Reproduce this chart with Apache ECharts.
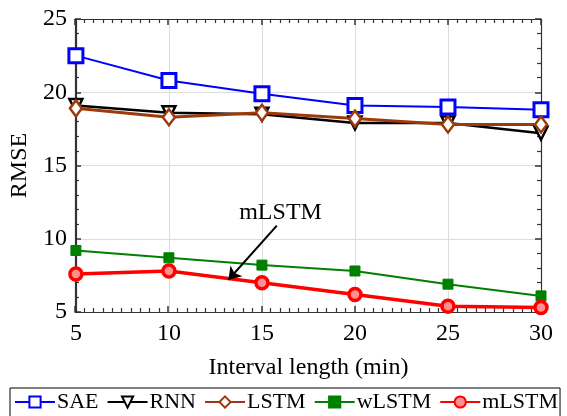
<!DOCTYPE html>
<html>
<head>
<meta charset="utf-8">
<script src="https://cdn.jsdelivr.net/npm/echarts@6/dist/echarts.min.js"></script>
<style>
  html, body { margin: 0; padding: 0; background: #fff; }
  #chart { width: 567px; height: 416px; }
</style>
</head>
<body>
<div id="chart"></div>
<script>
// 时间间隔 (min)
const intervals = [5, 10, 15, 20, 25, 30]
const saeData = [22.5, 20.8, 19.9, 19.1, 19.0, 18.8]
const rnnData = [19.1, 18.6, 18.5, 17.9, 17.9, 17.2]
const lstmData = [18.9, 18.3, 18.6, 18.2, 17.8, 17.8]
const wlstmData = [9.2, 8.7, 8.2, 7.8, 6.9, 6.1]
const mlstmData = [7.6, 7.8, 7.0, 6.2, 5.4, 5.3]
// 箭头标注
const arrowFrom = [15.8, 10.9]
const arrowTo = [13.2, 7.2]
const noteAt = [16.0, 11.8]

const font = 'Liberation Serif'
const chart = echarts.init(document.getElementById('chart'))

const pairs = (vals) => intervals.map((x, i) => [x, vals[i]])

const frameColor = '#333'
const gridRect = { left: 75, right: 26, top: 19, bottom: 104 }

// 只画刻度的坐标轴 (第二个 grid, 叠在同一位置)
const tickAxis = (kind, position, split) => ({
  type: 'value',
  gridIndex: 1,
  position: position,
  min: 5,
  max: kind === 'x' ? 30 : 25,
  interval: 5,
  axisLine: { show: true, onZero: false, lineStyle: { color: frameColor, width: 1.2 } },
  axisTick: { show: true, inside: true, length: 6, lineStyle: { color: frameColor, width: 1.5 } },
  minorTick: { show: true, splitNumber: split, length: 4, lineStyle: { color: frameColor, width: 1.2 } },
  axisLabel: { show: false },
  splitLine: { show: false }
})

const option = {
  animation: false,
  grid: [
    Object.assign({}, gridRect),
    Object.assign({}, gridRect)
  ],
  legend: {
    left: 10,
    top: 388,
    orient: 'horizontal',
    itemWidth: 40,
    itemHeight: 14,
    itemGap: 8,
    padding: [3, 2, 6, 4],
    borderColor: '#000',
    borderWidth: 1,
    textStyle: { fontFamily: font, fontSize: 22, color: '#000', padding: [0, 0, 0, -3] },
    data: ['SAE', 'RNN', 'LSTM', 'wLSTM', 'mLSTM']
  },
  xAxis: [
    {
      type: 'value',
      gridIndex: 0,
      min: 5,
      max: 30,
      interval: 5,
      name: 'Interval length (min)',
      nameLocation: 'middle',
      nameGap: 44,
      nameTextStyle: { fontFamily: font, fontSize: 24, color: '#000' },
      axisLine: { show: true, onZero: false, lineStyle: { color: frameColor, width: 1.2 } },
      axisTick: { show: false },
      axisLabel: { fontFamily: font, fontSize: 24, color: '#000', margin: 10 },
      splitLine: { show: true, lineStyle: { color: '#ddd' } }
    },
    tickAxis('x', 'bottom', 10),
    tickAxis('x', 'top', 10)
  ],
  yAxis: [
    {
      type: 'value',
      gridIndex: 0,
      min: 5,
      max: 25,
      interval: 5,
      name: 'RMSE',
      nameLocation: 'middle',
      nameGap: 33,
      nameTextStyle: { fontFamily: font, fontSize: 24, color: '#000' },
      axisLine: { show: true, onZero: false, lineStyle: { color: frameColor, width: 1.2 } },
      axisTick: { show: false },
      axisLabel: { fontFamily: font, fontSize: 24, color: '#000', margin: 9 },
      splitLine: { show: true, lineStyle: { color: '#ddd' } }
    },
    tickAxis('y', 'left', 5),
    tickAxis('y', 'right', 5)
  ],
  series: [
    {
      name: 'SAE',
      type: 'line',
      data: pairs(saeData),
      symbol: 'rect',
      symbolSize: 14,
      lineStyle: { width: 2, color: '#0000ff' },
      itemStyle: { color: '#fff', borderColor: '#0000ff', borderWidth: 3 }
    },
    {
      name: 'RNN',
      type: 'line',
      data: pairs(rnnData),
      symbol: 'triangle',
      symbolRotate: 180,
      symbolSize: 13,
      lineStyle: { width: 2.5, color: '#000' },
      itemStyle: { color: '#fff', borderColor: '#000', borderWidth: 2.5 }
    },
    {
      name: 'LSTM',
      type: 'line',
      data: pairs(lstmData),
      symbol: 'diamond',
      symbolSize: [12, 16],
      lineStyle: { width: 3, color: '#9c3a0c' },
      itemStyle: { color: '#fff', borderColor: '#9c3a0c', borderWidth: 2.5 }
    },
    {
      name: 'wLSTM',
      type: 'line',
      data: pairs(wlstmData),
      symbol: 'rect',
      symbolSize: 10,
      lineStyle: { width: 2, color: '#008000' },
      itemStyle: { color: '#008000', borderColor: '#008000', borderWidth: 1 }
    },
    {
      name: 'mLSTM',
      type: 'line',
      data: pairs(mlstmData),
      symbol: 'circle',
      symbolSize: 12,
      lineStyle: { width: 3.5, color: '#ff0000' },
      itemStyle: { color: '#ff9090', borderColor: '#ff0000', borderWidth: 3.5 },
      // 标注箭头
      markLine: {
        silent: true,
        symbol: ['none', 'arrow'],
        symbolSize: 12,
        label: { show: false },
        lineStyle: { color: '#000', width: 2, type: 'solid' },
        data: [[{ coord: arrowFrom }, { coord: arrowTo }]]
      },
      markPoint: {
        silent: true,
        symbol: 'circle',
        symbolSize: 0,
        label: {
          show: true,
          formatter: 'mLSTM',
          fontFamily: font,
          fontSize: 24,
          color: '#000'
        },
        data: [{ coord: noteAt }]
      }
    }
  ]
}

chart.setOption(option)
</script>
</body>
</html>
